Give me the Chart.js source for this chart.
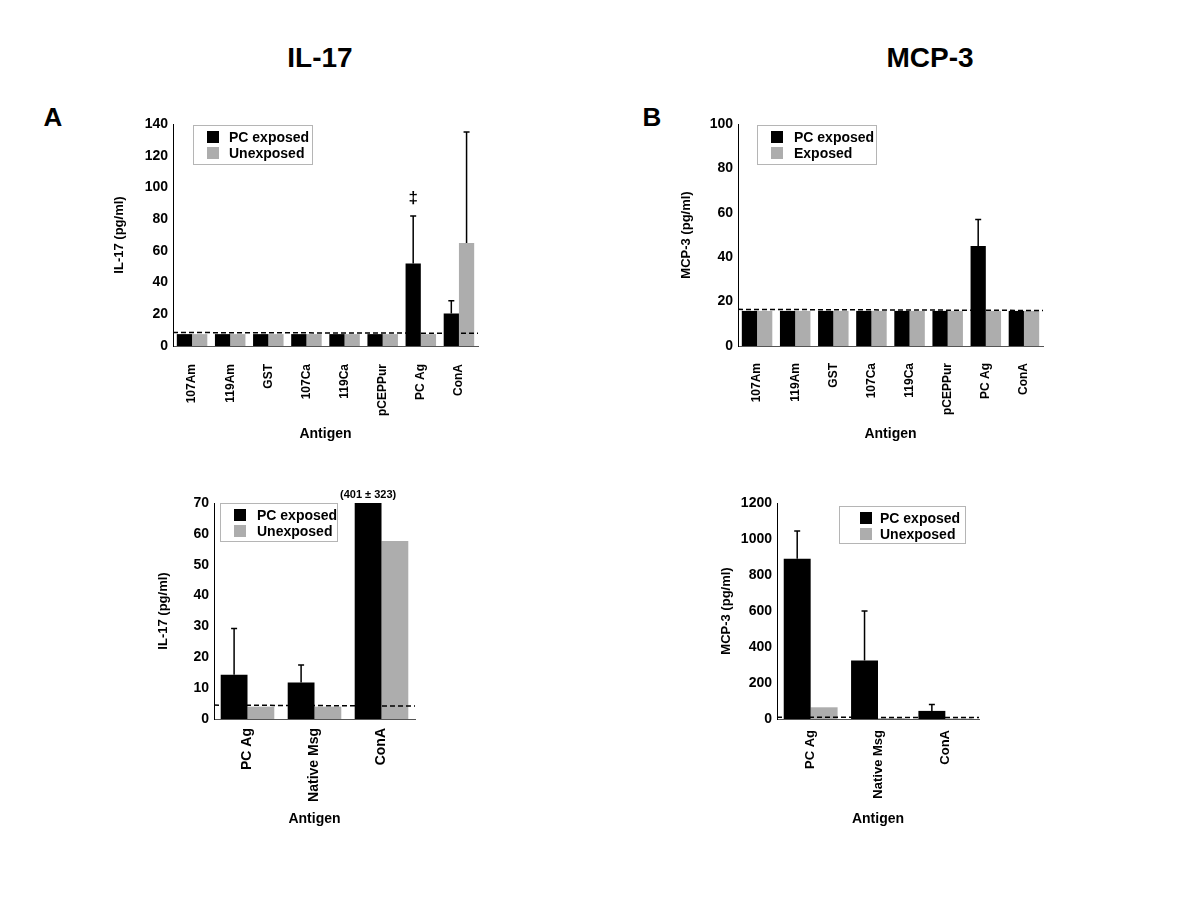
<!DOCTYPE html>
<html>
<head>
<meta charset="utf-8">
<title>IL-17 / MCP-3</title>
<script src="https://cdn.jsdelivr.net/npm/chart.js@4.4.1/dist/chart.umd.min.js"></script>
<style>
  body { margin: 0; width: 1200px; height: 900px; background: #fff; position: relative; overflow: hidden;
         font-family: "Liberation Sans", Arial, sans-serif; }
  canvas { position: absolute; }
  .lbl { position: absolute; font-weight: bold; color: #000; transform: translate(-50%, -50%); white-space: nowrap; }
</style>
</head>
<body>
<div class="lbl" style="left:320px; top:58px; font-size:28px;">IL-17</div>
<div class="lbl" style="left:930px; top:58px; font-size:28px;">MCP-3</div>
<div class="lbl" style="left:53px; top:117px; font-size:26px;">A</div>
<div class="lbl" style="left:652px; top:117px; font-size:26px;">B</div>

<canvas id="il17Screen"></canvas>
<canvas id="mcp3Screen"></canvas>
<canvas id="il17Follow"></canvas>
<canvas id="mcp3Follow"></canvas>

<script>
// categories
const antigensScreen = ['107Am', '119Am', 'GST', '107Ca', '119Ca', 'pCEPPur', 'PC Ag', 'ConA'];
const antigensFollow = ['PC Ag', 'Native Msg', 'ConA'];

// A, top: IL-17 per antigen
const il17ScreenExposed      = [7.5, 7.5, 7.5, 7.5, 7.5, 7.5, 52, 20.5];
const il17ScreenExposedErr   = [0, 0, 0, 0, 0, 0, 30, 8];
const il17ScreenUnexposed    = [7.5, 7.5, 7.5, 7.5, 7.5, 7.5, 7.5, 65];
const il17ScreenUnexposedErr = [0, 0, 0, 0, 0, 0, 0, 70];
const il17ScreenMarks        = ['', '', '', '', '', '', '\u2021', ''];
const il17ScreenCutoff       = [8.5, 8];
const il17ScreenTicks        = [0, 20, 40, 60, 80, 100, 120, 140];

// B, top: MCP-3 per antigen
const mcp3ScreenExposed      = [15.8, 15.8, 15.8, 15.8, 15.8, 15.8, 45, 15.8];
const mcp3ScreenExposedErr   = [0, 0, 0, 0, 0, 0, 12, 0];
const mcp3ScreenOther        = [15.8, 15.8, 15.8, 15.8, 15.8, 15.8, 15.8, 15.8];
const mcp3ScreenCutoff       = [16.5, 16];
const mcp3ScreenTicks        = [0, 20, 40, 60, 80, 100];

// A, bottom: IL-17 follow-up
const il17FollowExposed      = [14.3, 11.8, 401];
const il17FollowExposedErr   = [15, 5.7, 323];
const il17FollowUnexposed    = [4, 4, 57.7];
const il17FollowMarks        = ['', '', '(401 \u00b1 323)'];
const il17FollowCutoff       = [4.5, 4.2];
const il17FollowTicks        = [0, 10, 20, 30, 40, 50, 60, 70];

// B, bottom: MCP-3 follow-up
const mcp3FollowExposed      = [890, 325, 45];
const mcp3FollowExposedErr   = [155, 275, 35];
const mcp3FollowUnexposed    = [65, 5, 3];
const mcp3FollowCutoff       = [10, 8];
const mcp3FollowTicks        = [0, 200, 400, 600, 800, 1000, 1200];

const BLACK = '#000000';
const GREY = '#adadad';
const FONT = '"Liberation Sans", Arial, sans-serif';

Chart.defaults.font.family = FONT;
Chart.defaults.font.weight = 'bold';
Chart.defaults.color = '#000';

// error bars, cut-off line, marks above bars and the boxed legend
const extras = {
    id: 'extras',
    afterDatasetsDraw(chart, args, opts) {
        const ctx = chart.ctx;
        const area = chart.chartArea;
        const y = chart.scales.y;
        ctx.save();

        chart.data.datasets.forEach((ds, di) => {
            if (!ds.errors) return;
            chart.getDatasetMeta(di).data.forEach((bar, i) => {
                const e = ds.errors[i];
                if (!e || bar.y < area.top) return;
                const top = Math.max(y.getPixelForValue(ds.data[i] + e), area.top - 6);
                ctx.strokeStyle = '#000';
                ctx.lineWidth = 1.5;
                ctx.beginPath();
                ctx.moveTo(bar.x, bar.y);
                ctx.lineTo(bar.x, top);
                ctx.moveTo(bar.x - 3, top);
                ctx.lineTo(bar.x + 3, top);
                ctx.stroke();
            });
        });

        if (opts.cutoff) {
            ctx.setLineDash([5, 3]);
            ctx.lineWidth = 1.5;
            ctx.strokeStyle = '#000';
            ctx.beginPath();
            ctx.moveTo(area.left, y.getPixelForValue(opts.cutoff[0]));
            ctx.lineTo(area.right, y.getPixelForValue(opts.cutoff[1]));
            ctx.stroke();
            ctx.setLineDash([]);
        }

        if (opts.marks) {
            const ds = chart.data.datasets[0];
            const meta = chart.getDatasetMeta(0);
            ctx.fillStyle = '#000';
            ctx.textAlign = 'center';
            ctx.textBaseline = 'middle';
            ctx.font = opts.markFont;
            opts.marks.forEach((txt, i) => {
                if (!txt) return;
                const v = ds.data[i] + (ds.errors ? ds.errors[i] : 0);
                const py = Math.max(y.getPixelForValue(v), area.top);
                ctx.fillText(txt, meta.data[i].x, py - opts.markGap);
            });
        }

        const lg = opts.legend;
        if (lg) {
            const x0 = area.left + lg.dx, y0 = area.top + lg.dy;
            ctx.fillStyle = '#fff';
            ctx.fillRect(x0, y0, lg.w, lg.h);
            ctx.strokeStyle = '#b5b5b5';
            ctx.lineWidth = 1;
            ctx.strokeRect(x0 + 0.5, y0 + 0.5, lg.w, lg.h);
            ctx.font = 'bold 14px ' + FONT;
            ctx.textAlign = 'left';
            ctx.textBaseline = 'middle';
            chart.data.datasets.forEach((ds, i) => {
                const cy = y0 + 12 + i * 16;
                ctx.fillStyle = ds.backgroundColor;
                ctx.fillRect(x0 + lg.swatchX, cy - 6, 12, 12);
                ctx.fillStyle = '#000';
                ctx.fillText(ds.label, x0 + lg.textX, cy + 1);
            });
        }
        ctx.restore();
    }
};

function drawPanel(id, box, plot, labels, datasets, ticks, yTitle, extraOpts) {
    const cv = document.getElementById(id);
    cv.width = box.w;
    cv.height = box.h;
    cv.style.left = box.x + 'px';
    cv.style.top = box.y + 'px';

    const yWidth = plot.left - box.x;
    const xHeight = box.y + box.h - plot.bottom;

    new Chart(cv, {
        type: 'bar',
        data: {
            labels: labels,
            datasets: datasets.map(d => ({
                label: d.label,
                data: d.data,
                errors: d.errors,
                backgroundColor: d.color,
                borderWidth: 0,
                categoryPercentage: 0.8,
                barPercentage: 1.0,
                clip: 0
            }))
        },
        options: {
            responsive: false,
            animation: false,
            devicePixelRatio: 1,
            layout: { padding: { left: 0, top: plot.top - box.y, right: box.x + box.w - plot.right, bottom: 0 } },
            plugins: {
                legend: { display: false },
                tooltip: { enabled: false },
                extras: extraOpts
            },
            scales: {
                x: {
                    grid: { display: false, drawTicks: false },
                    border: { display: true, color: '#555', width: 1 },
                    ticks: { minRotation: 90, maxRotation: 90, autoSkip: false, padding: plot.tickPad,
                             font: { size: plot.labelSize, weight: 'bold' } },
                    title: { display: true, text: 'Antigen', padding: 0, font: { size: 14, weight: 'bold' } },
                    afterFit(s) { s.height = xHeight; s.paddingLeft = 0; s.paddingRight = 0; }
                },
                y: {
                    min: ticks[0],
                    max: ticks[ticks.length - 1],
                    afterBuildTicks(s) { s.ticks = ticks.map(v => ({ value: v })); },
                    grid: { display: false, drawTicks: false },
                    border: { display: true, color: '#000', width: 1 },
                    ticks: { padding: 5, font: { size: 14, weight: 'bold' }, callback: v => String(v) },
                    title: { display: true, text: yTitle, padding: 0, font: { size: 13, weight: 'bold' } },
                    afterFit(s) { s.width = yWidth; s.paddingTop = 0; s.paddingBottom = 0; }
                }
            }
        },
        plugins: [extras]
    });
}

drawPanel('il17Screen',
    { x: 112, y: 100, w: 380, h: 343 },
    { left: 173, top: 124, right: 478, bottom: 346, tickPad: 18, labelSize: 12 },
    antigensScreen,
    [
        { label: 'PC exposed', data: il17ScreenExposed, errors: il17ScreenExposedErr, color: BLACK },
        { label: 'Unexposed', data: il17ScreenUnexposed, errors: il17ScreenUnexposedErr, color: GREY }
    ],
    il17ScreenTicks, 'IL-17 (pg/ml)',
    { cutoff: il17ScreenCutoff, marks: il17ScreenMarks, markFont: 'bold 17px ' + FONT, markGap: 18,
      legend: { dx: 20, dy: 1, w: 119, h: 39, swatchX: 14, textX: 36 } });

drawPanel('mcp3Screen',
    { x: 679, y: 100, w: 378, h: 343 },
    { left: 738, top: 124, right: 1043, bottom: 346, tickPad: 17, labelSize: 12 },
    antigensScreen,
    [
        { label: 'PC exposed', data: mcp3ScreenExposed, errors: mcp3ScreenExposedErr, color: BLACK },
        { label: 'Exposed', data: mcp3ScreenOther, color: GREY }
    ],
    mcp3ScreenTicks, 'MCP-3 (pg/ml)',
    { cutoff: mcp3ScreenCutoff,
      legend: { dx: 19, dy: 1, w: 119, h: 39, swatchX: 14, textX: 37 } });

drawPanel('il17Follow',
    { x: 156, y: 479, w: 273, h: 349 },
    { left: 214, top: 503, right: 415, bottom: 719, tickPad: 9, labelSize: 14 },
    antigensFollow,
    [
        { label: 'PC exposed', data: il17FollowExposed, errors: il17FollowExposedErr, color: BLACK },
        { label: 'Unexposed', data: il17FollowUnexposed, color: GREY }
    ],
    il17FollowTicks, 'IL-17 (pg/ml)',
    { cutoff: il17FollowCutoff, marks: il17FollowMarks, markFont: 'bold 11px ' + FONT, markGap: 8,
      legend: { dx: 6, dy: 0, w: 117, h: 38, swatchX: 14, textX: 37 } });

drawPanel('mcp3Follow',
    { x: 719, y: 479, w: 274, h: 349 },
    { left: 777, top: 503, right: 979, bottom: 719, tickPad: 11, labelSize: 13 },
    antigensFollow,
    [
        { label: 'PC exposed', data: mcp3FollowExposed, errors: mcp3FollowExposedErr, color: BLACK },
        { label: 'Unexposed', data: mcp3FollowUnexposed, color: GREY }
    ],
    mcp3FollowTicks, 'MCP-3 (pg/ml)',
    { cutoff: mcp3FollowCutoff,
      legend: { dx: 62, dy: 3, w: 126, h: 37, swatchX: 21, textX: 41 } });
</script>
</body>
</html>
